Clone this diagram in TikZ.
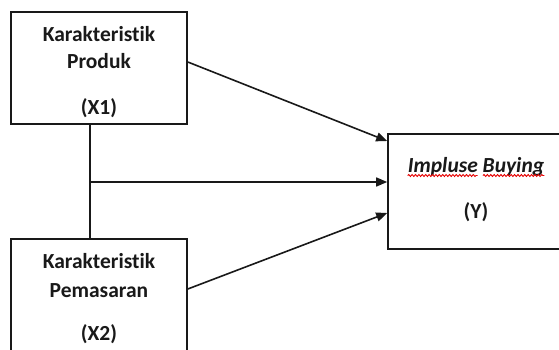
\documentclass[tikz,border=0pt]{standalone}
\usepackage{fontspec}
\setmainfont{Carlito}[Ligatures=NoCommon]
\usetikzlibrary{arrows.meta,decorations.pathmorphing}
\newcommand\lblfont{\fontsize{21.5}{25}\selectfont\bfseries}
\newcommand\ytfont{\fontsize{21.5}{25}\selectfont\bfseries\itshape}
\newlength\wIlen
\newlength\wBlen
\begin{document}
\settowidth\wIlen{\ytfont Impluse}%
\settowidth\wBlen{\ytfont Buying}%
\begin{tikzpicture}[x=1pt,y=-1pt,
  box/.style={draw=black!90,line width=1.6pt,inner sep=0pt},
  lbl/.style={inner sep=0pt,anchor=base,font=\lblfont,text=black!90},
  conn/.style={draw=black!90,line width=1.6pt},
  arr/.style={conn,-{Triangle[length=11pt,width=9pt]}},
  wave/.style={draw=red!90!black,line width=0.9pt,decorate,decoration={snake,amplitude=1pt,segment length=3.4pt}}
]
\useasboundingbox (0,0) rectangle (559,350);
% boxes
\node[box,minimum width=176pt,minimum height=112pt] (x1) at (99,68) {};
\node[box,minimum width=176pt,minimum height=118pt] (x2) at (99,298) {};
\node[box,minimum width=178pt,minimum height=115pt] (y) at (477,191.5) {};
% labels
\node[lbl] (x1a) at (99,42) {Karakteristik};
\node[lbl] (x1b) at (99,69) {Produk};
\node[lbl] (x1c) at (99,115) {(X1)};
\node[lbl] (x2a) at (99,268) {Karakteristik};
\node[lbl] (x2b) at (99,297) {Pemasaran};
\node[lbl] (x2c) at (99,340) {(X2)};
\node[lbl,font=\ytfont] (yt) at (476,172) {Impluse Buying};
\node[lbl] (yc) at (476,218) {(Y)};
% spell-check underline
\draw[wave] ([yshift=-3.5pt]yt.base west) -- ([yshift=-3.5pt,xshift=\wIlen]yt.base west);
\draw[wave] ([yshift=-3.5pt,xshift=-\wBlen]yt.base east) -- ([yshift=-3.5pt]yt.base east);
% connectors
\coordinate (m) at (90,182);
\draw[conn] ([xshift=-9pt]x1.south) -- ([xshift=-9pt]x2.north);
\draw[arr] ([yshift=6pt]x1.east) -- ([yshift=50.5pt]y.west);
\draw[arr] (m) -- (y.west |- m);
\draw[arr] ([yshift=9pt]x2.east) -- ([yshift=-21.5pt]y.west);
\end{tikzpicture}
\end{document}
